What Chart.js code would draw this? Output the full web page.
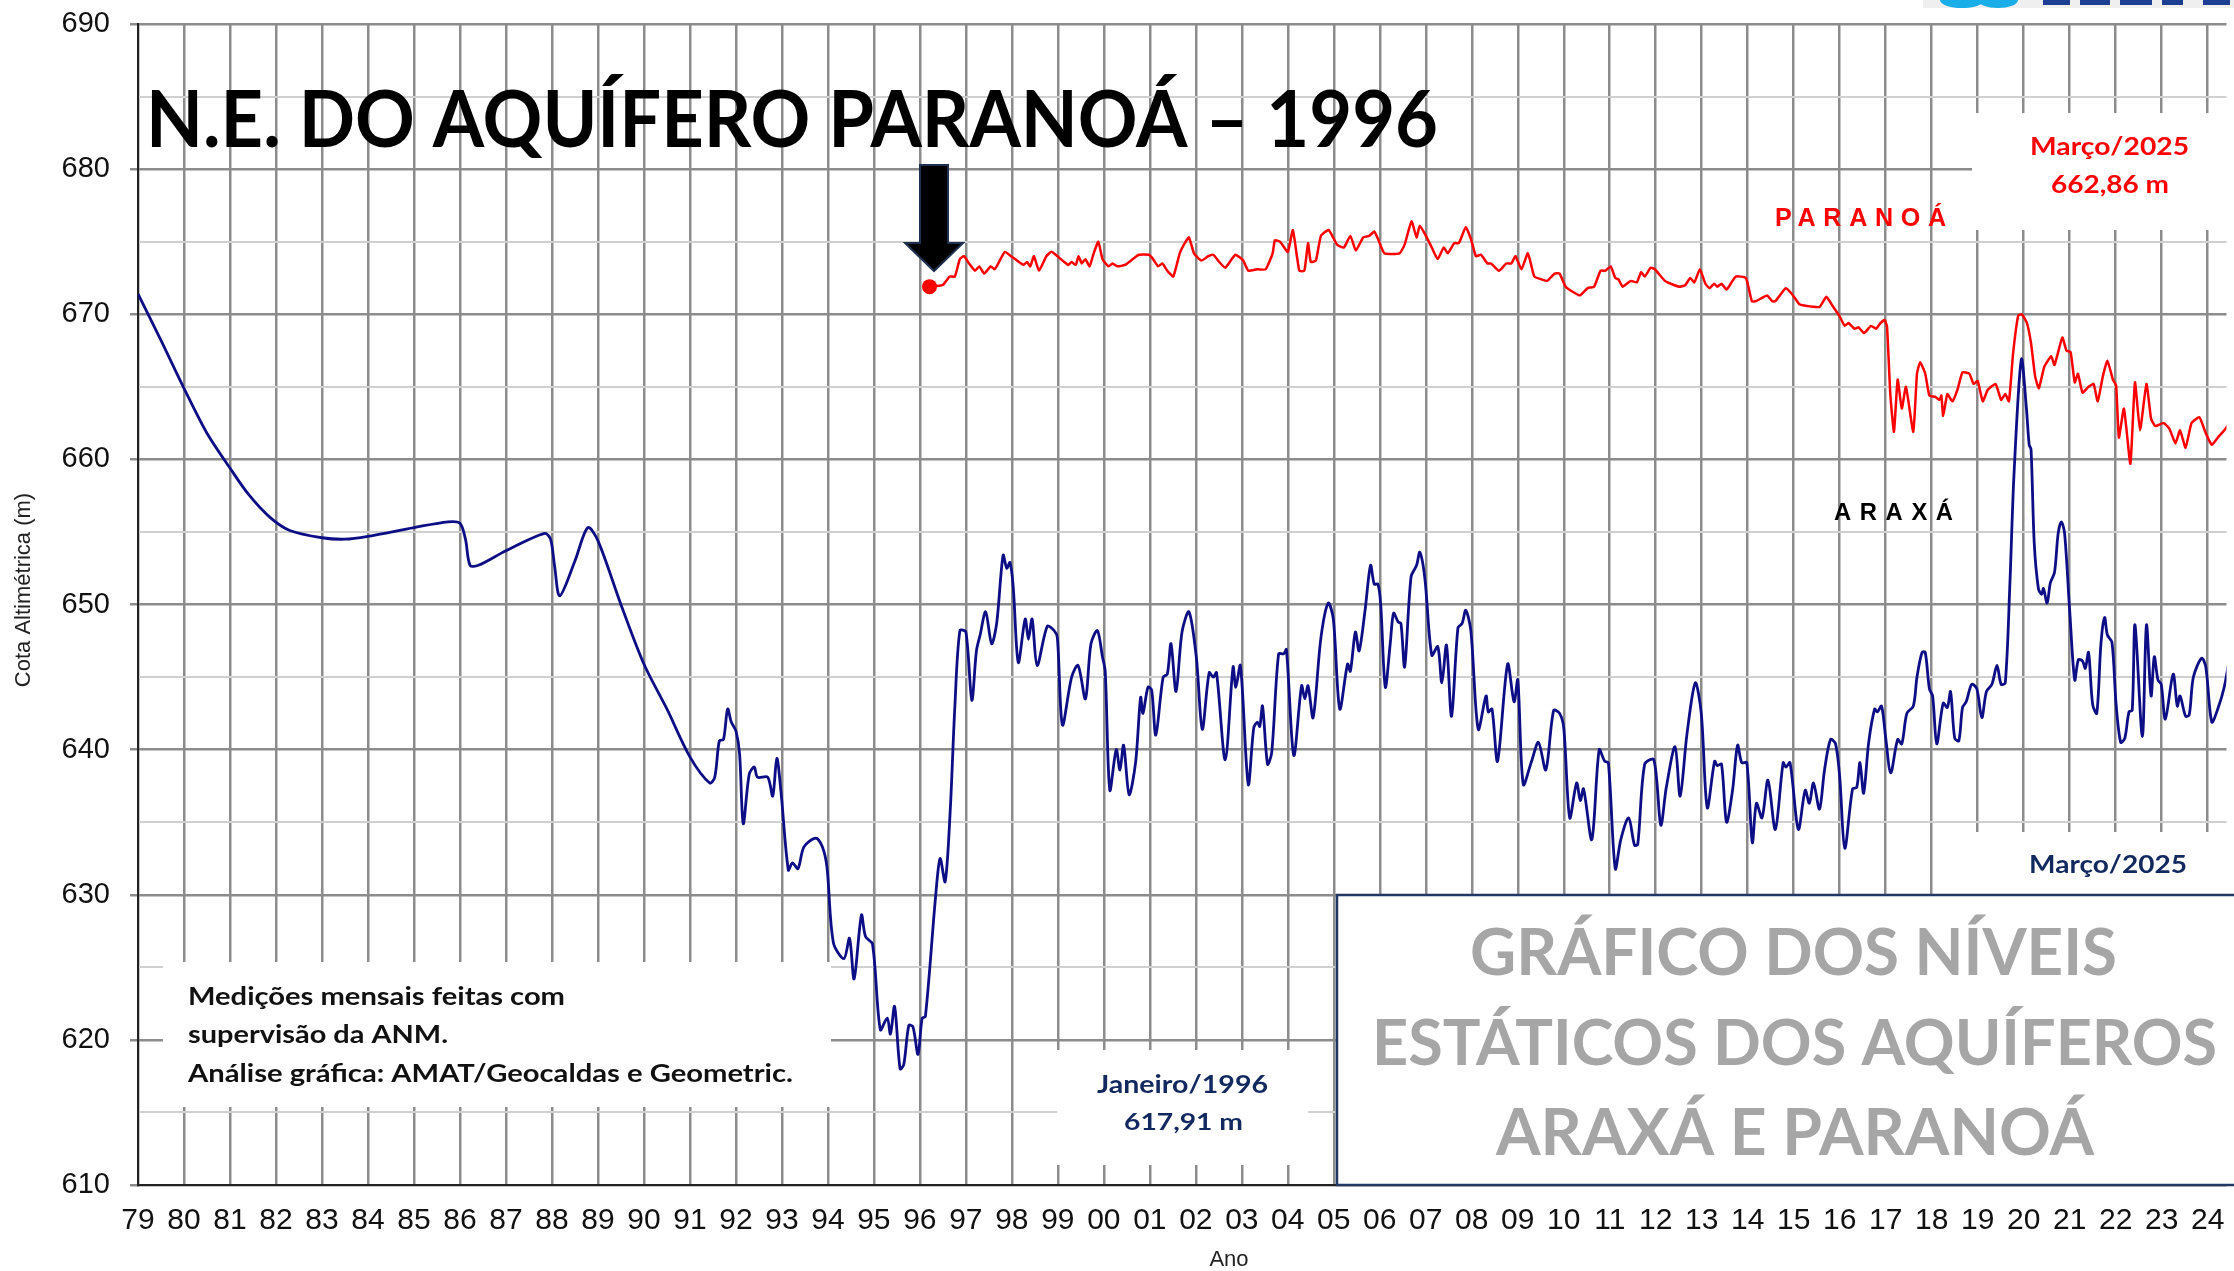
<!DOCTYPE html>
<html>
<head>
<meta charset="utf-8">
<script src="https://cdn.jsdelivr.net/npm/chart.js@4.4.1/dist/chart.umd.min.js"></script>
<style>
html,body{margin:0;padding:0;background:#fff;overflow:hidden}
canvas{display:block}
</style>
</head>
<body>
<canvas id="c" width="2234" height="1271" style="width:2234px;height:1271px"></canvas>
<script>
// ---------- DATA ----------
const yearLabels = ['79','80','81','82','83','84','85','86','87','88','89','90','91','92','93','94','95','96','97','98','99','00','01','02','03','04','05','06','07','08','09','10','11','12','13','14','15','16','17','18','19','20','21','22','23','24'];

const araxaYears = [
1979.00,1979.50,1980.00,1980.50,1981.00,1981.40,1981.87,1982.30,1983.00,1983.50,1984.00,1985.00,1985.74,1986.00,1986.12,1986.22,1986.40,1987.00,1987.84,1987.97,1988.06,1988.17,1988.50,1988.78,1989.00,1989.50,1990.00,1990.50,1991.00,1991.43,1991.54,1991.64,1991.73,1991.82,1991.90,1992.00,1992.08,1992.16,1992.29,1992.40,1992.47,1992.69,1992.80,1992.89,1992.98,1993.14,1993.23,1993.35,1993.48,1993.74,1993.88,1993.98,1994.12,1994.35,1994.47,1994.57,1994.73,1994.82,1994.97,1995.14,1995.29,1995.36,1995.45,1995.57,1995.65,1995.76,1995.85,1995.96,1996.05,1996.12,1996.34,1996.44,1996.55,1996.66,1996.76,1996.87,1997.00,1997.13,1997.23,1997.31,1997.43,1997.56,1997.67,1997.81,1997.89,1997.96,1998.03,1998.14,1998.29,1998.36,1998.44,1998.55,1998.77,1998.92,1998.99,1999.10,1999.30,1999.44,1999.60,1999.72,1999.86,1999.97,2000.03,2000.13,2000.27,2000.35,2000.43,2000.55,2000.69,2000.80,2000.85,2000.96,2001.04,2001.13,2001.29,2001.38,2001.46,2001.57,2001.70,2001.85,2002.01,2002.14,2002.29,2002.38,2002.45,2002.64,2002.81,2002.87,2002.97,2003.14,2003.26,2003.34,2003.39,2003.45,2003.56,2003.65,2003.80,2003.91,2003.97,2004.13,2004.30,2004.37,2004.44,2004.55,2004.72,2004.88,2004.99,2005.13,2005.30,2005.36,2005.47,2005.55,2005.68,2005.80,2005.88,2005.96,2006.02,2006.12,2006.23,2006.30,2006.40,2006.46,2006.54,2006.68,2006.80,2006.87,2006.98,2007.13,2007.26,2007.35,2007.45,2007.56,2007.70,2007.79,2007.87,2007.98,2008.14,2008.31,2008.36,2008.44,2008.56,2008.78,2008.92,2009.00,2009.12,2009.30,2009.45,2009.61,2009.78,2009.91,2010.00,2010.13,2010.28,2010.36,2010.43,2010.61,2010.77,2010.89,2010.97,2011.12,2011.24,2011.41,2011.54,2011.61,2011.76,2011.96,2012.11,2012.23,2012.42,2012.53,2012.68,2012.86,2012.99,2013.12,2013.28,2013.34,2013.43,2013.54,2013.67,2013.78,2013.87,2013.98,2014.10,2014.19,2014.31,2014.44,2014.60,2014.77,2014.83,2014.92,2015.10,2015.25,2015.34,2015.43,2015.56,2015.67,2015.80,2015.91,2016.00,2016.11,2016.28,2016.37,2016.44,2016.52,2016.63,2016.76,2016.82,2016.91,2017.00,2017.11,2017.26,2017.35,2017.46,2017.60,2017.68,2017.79,2017.86,2017.95,2018.02,2018.11,2018.25,2018.34,2018.41,2018.50,2018.59,2018.67,2018.75,2018.87,2018.98,2019.09,2019.19,2019.31,2019.42,2019.51,2019.60,2019.70,2019.79,2019.95,2020.06,2020.12,2020.16,2020.23,2020.32,2020.39,2020.43,2020.51,2020.58,2020.67,2020.75,2020.82,2020.89,2021.00,2021.11,2021.19,2021.28,2021.34,2021.41,2021.50,2021.59,2021.68,2021.76,2021.82,2021.92,2022.01,2022.11,2022.20,2022.29,2022.36,2022.42,2022.58,2022.67,2022.77,2022.84,2022.92,2022.99,2023.08,2023.25,2023.34,2023.40,2023.52,2023.60,2023.69,2023.87,2023.96,2024.09,2024.22,2024.36,2024.50];
const araxaLevels = [
671.4,668.2,664.9,661.8,659.4,657.6,656.0,655.1,654.6,654.5,654.7,655.3,655.7,655.6,654.5,652.7,652.7,653.7,654.9,654.5,652.6,650.6,653.0,655.3,654.4,650.0,645.9,642.8,639.5,637.7,638.1,640.6,640.7,642.8,641.9,641.3,639.7,634.9,638.3,638.8,638.1,638.1,636.8,639.4,637.1,631.7,632.2,631.8,633.3,633.9,633.3,631.9,626.7,625.6,627.0,624.2,628.6,627.1,626.6,620.7,621.5,620.4,622.3,618.0,618.3,621.0,620.9,619.0,621.5,621.6,629.8,632.5,630.9,635.8,642.9,648.2,648.1,643.4,646.8,647.9,649.5,647.3,648.7,653.4,652.5,652.9,651.2,646.0,649.0,647.6,649.0,645.8,648.5,648.2,647.7,641.7,645.0,645.8,643.5,647.3,648.2,646.4,645.4,637.2,640.0,638.6,640.3,636.9,639.1,643.6,642.5,644.3,644.1,641.0,645.0,645.2,647.3,644.0,648.1,649.5,646.4,641.4,645.3,645.0,645.3,639.3,645.7,644.3,645.8,637.6,641.5,641.9,641.6,643.0,639.0,639.8,646.6,646.6,646.9,639.6,644.4,643.5,644.4,642.2,647.7,650.1,649.0,642.8,645.9,645.4,648.1,646.8,649.6,652.7,651.4,651.4,650.0,644.3,647.4,649.4,648.8,648.7,645.7,651.9,652.7,653.6,651.8,646.5,647.1,644.6,647.2,642.3,648.4,648.7,649.6,648.2,641.4,643.7,642.6,642.8,639.2,645.9,643.3,644.8,637.6,639.2,640.5,638.6,642.7,642.5,641.5,635.3,637.7,636.5,637.3,633.8,640.0,639.2,639.1,631.8,633.8,635.3,633.4,633.5,639.0,639.3,634.8,637.4,640.2,636.8,641.1,644.6,642.5,636.0,639.2,638.9,639.0,635.0,637.2,640.3,639.1,639.1,633.6,636.3,635.3,637.9,634.5,639.1,638.8,639.1,634.5,637.2,636.3,637.7,635.9,638.6,640.7,640.4,638.1,633.2,637.3,637.4,639.1,637.0,640.5,642.8,642.6,643.0,640.8,638.4,640.7,640.4,642.5,643.0,645.0,646.7,646.7,644.2,643.7,640.4,643.2,642.9,644.0,640.8,640.6,642.9,643.3,644.5,644.2,642.2,644.0,644.5,645.8,644.5,644.6,651.4,659.0,666.9,663.5,661.0,660.7,654.2,651.1,650.7,651.1,650.1,651.5,652.2,654.9,655.7,654.9,649.6,644.8,646.2,646.1,645.6,646.7,643.1,642.5,647.3,649.1,647.9,647.4,643.1,640.5,640.8,642.6,642.7,648.6,640.9,648.6,643.7,646.4,644.8,644.5,642.1,645.2,643.0,643.7,642.3,642.4,645.0,646.3,645.7,641.9,642.8,644.3,646.8];

const paranoaYears = [
1996.21,1996.49,1996.65,1996.76,1996.87,1996.96,1997.07,1997.20,1997.29,1997.40,1997.54,1997.62,1997.67,1997.85,1997.98,1998.11,1998.25,1998.33,1998.40,1998.48,1998.59,1998.75,1998.86,1998.99,1999.14,1999.23,1999.30,1999.39,1999.45,1999.52,1999.60,1999.69,1999.77,1999.88,1999.97,2000.10,2000.19,2000.30,2000.46,2000.63,2000.76,2000.98,2001.07,2001.18,2001.27,2001.38,2001.51,2001.65,2001.76,2001.85,2001.96,2002.12,2002.27,2002.38,2002.51,2002.64,2002.86,2003.03,2003.14,2003.34,2003.52,2003.67,2003.72,2003.83,2004.00,2004.11,2004.25,2004.36,2004.44,2004.50,2004.61,2004.72,2004.89,2005.07,2005.22,2005.36,2005.48,2005.64,2005.77,2005.88,2005.96,2006.10,2006.43,2006.54,2006.69,2006.80,2006.87,2007.02,2007.13,2007.26,2007.39,2007.48,2007.62,2007.72,2007.87,2007.98,2008.09,2008.20,2008.34,2008.42,2008.59,2008.75,2008.86,2008.95,2009.08,2009.22,2009.36,2009.52,2009.64,2009.80,2009.91,2010.04,2010.22,2010.35,2010.52,2010.66,2010.80,2010.91,2011.02,2011.12,2011.19,2011.28,2011.46,2011.59,2011.68,2011.76,2011.89,2011.98,2012.20,2012.33,2012.51,2012.64,2012.75,2012.84,2012.96,2013.08,2013.17,2013.27,2013.34,2013.43,2013.54,2013.61,2013.74,2013.96,2014.09,2014.18,2014.42,2014.53,2014.60,2014.83,2014.96,2015.12,2015.23,2015.56,2015.71,2015.84,2015.99,2016.11,2016.19,2016.32,2016.41,2016.53,2016.68,2016.79,2016.89,2016.98,2017.03,2017.10,2017.18,2017.26,2017.35,2017.44,2017.60,2017.68,2017.75,2017.86,2017.95,2018.08,2018.17,2018.21,2018.25,2018.34,2018.45,2018.56,2018.67,2018.82,2018.91,2019.00,2019.11,2019.22,2019.39,2019.51,2019.60,2019.68,2019.77,2019.88,2019.96,2020.07,2020.16,2020.25,2020.33,2020.45,2020.60,2020.67,2020.84,2020.93,2021.02,2021.11,2021.18,2021.28,2021.41,2021.52,2021.61,2021.72,2021.82,2021.94,2022.01,2022.07,2022.18,2022.32,2022.42,2022.53,2022.67,2022.77,2022.86,2023.04,2023.17,2023.30,2023.40,2023.52,2023.65,2023.82,2023.96,2024.09,2024.22,2024.36,2024.50];
const paranoaLevels = [
671.9,672.0,672.6,672.6,673.8,674.0,673.5,673.0,673.3,672.8,673.3,673.1,673.3,674.3,674.0,673.7,673.4,673.6,673.3,674.0,673.0,674.0,674.3,674.0,673.6,673.4,673.6,673.4,674.0,673.5,673.8,673.3,674.1,675.0,673.8,673.3,673.5,673.3,673.4,673.8,674.1,674.1,673.8,673.3,673.5,673.0,672.6,674.2,674.9,675.3,674.2,673.7,674.0,674.1,673.6,673.2,674.1,673.7,673.0,673.1,673.1,674.2,675.1,675.0,674.3,675.8,673.0,673.0,674.9,673.6,673.7,675.4,675.8,674.8,674.6,675.4,674.4,675.3,675.4,675.7,675.2,674.2,674.2,674.8,676.4,675.3,676.1,675.3,674.6,673.8,674.6,674.2,674.9,674.9,676.0,675.2,674.0,674.1,673.5,673.5,673.0,673.5,673.5,674.0,673.1,674.2,672.6,672.4,672.3,672.8,672.8,671.9,671.5,671.3,671.8,671.9,673.0,673.0,673.3,672.5,672.4,671.9,672.3,672.2,672.9,672.6,673.2,673.1,672.3,672.1,671.9,672.0,672.5,672.2,673.1,672.1,671.8,672.1,671.9,672.1,671.7,672.0,672.6,672.5,670.9,670.9,671.3,670.9,670.9,671.8,671.4,670.7,670.6,670.5,671.2,670.6,669.9,669.2,669.4,669.0,669.1,668.7,669.2,669.0,669.4,669.6,669.1,664.5,661.9,665.5,663.5,665.0,661.9,665.9,666.7,665.9,664.4,664.3,664.1,664.4,663.0,664.5,664.0,664.8,666.0,665.9,665.2,665.4,664.0,664.8,665.2,664.1,664.5,664.0,667.3,669.9,670.0,669.4,668.0,665.7,664.9,666.4,667.1,666.5,668.4,667.5,667.4,665.3,665.9,664.6,665.0,665.2,664.0,665.7,666.8,665.5,665.1,661.5,663.5,659.7,665.3,662.0,665.2,662.8,662.3,662.5,662.1,661.1,662.0,660.8,662.5,662.9,661.8,661.0,661.5,662.0,662.6];

// ---------- TEXTS ----------
const titleText = 'N.E. DO AQUÍFERO PARANOÁ – 1996';
const noteLines = ['Medições mensais feitas com', 'supervisão da ANM.', 'Análise gráfica: AMAT/Geocaldas e Geometric.'];
const bigLines = ['GRÁFICO DOS NÍVEIS', 'ESTÁTICOS DOS AQUÍFEROS', 'ARAXÁ E PARANOÁ'];

// ---------- helpers ----------
function fitText(ctx, txt, left, right, baseline, cap, color, family, weight, ratio) {
  const size = cap / (ratio || 0.72);
  ctx.font = (weight || 'bold') + ' ' + size + 'px ' + (family || 'Lato, "Open Sans", sans-serif');
  ctx.textAlign = 'left';
  ctx.textBaseline = 'alphabetic';
  const w = ctx.measureText(txt).width;
  const sx = (right - left) / w;
  ctx.save();
  ctx.translate(left, baseline);
  ctx.scale(sx, 1);
  ctx.fillStyle = color;
  ctx.fillText(txt, 0, 0);
  ctx.restore();
}
function spacedText(ctx, txt, left, right, baseline, cap, color) {
  const size = cap / 0.716;
  ctx.save();
  ctx.font = 'bold ' + size + 'px "Liberation Sans", Arial, sans-serif';
  ctx.textAlign = 'left';
  ctx.textBaseline = 'alphabetic';
  ctx.fillStyle = color;
  const chars = Array.from(txt);
  const widths = chars.map(c => ctx.measureText(c).width);
  const total = widths.reduce((a, b) => a + b, 0);
  const gap = (right - left - total) / (chars.length - 1);
  if ('letterSpacing' in ctx) {
    ctx.letterSpacing = gap + 'px';
    ctx.fillText(txt, left, baseline);
  } else {
    let x = left;
    chars.forEach((c, i) => { ctx.fillText(c, x, baseline); x += widths[i] + gap; });
  }
  ctx.restore();
}

const overlay = {
  id: 'overlay',
  beforeDatasetsDraw(chart) {
    const ctx = chart.ctx;
    ctx.save();
    ctx.fillStyle = '#ffffff';
    ctx.fillRect(163, 962, 831 - 163, 1107 - 962);      // note box
    ctx.fillRect(1057, 1050, 1308 - 1057, 1165 - 1050); // Janeiro/1996 box
    ctx.fillRect(1972, 113, 2234 - 1972, 230 - 113);    // red label box
    ctx.fillRect(1972, 832, 2234 - 1972, 895 - 832);    // navy label box
    ctx.restore();
  },
  afterDatasetsDraw(chart) {
    const ctx = chart.ctx;
    ctx.save();
    // title
    fitText(ctx, titleText, 146, 1438, 147, 56, '#000000');
    // arrow
    ctx.beginPath();
    ctx.moveTo(920, 165); ctx.lineTo(948, 165); ctx.lineTo(948, 243); ctx.lineTo(963, 243);
    ctx.lineTo(934, 271); ctx.lineTo(905, 243); ctx.lineTo(920, 243); ctx.closePath();
    ctx.fillStyle = '#000000'; ctx.fill();
    ctx.strokeStyle = '#1f3050'; ctx.lineWidth = 2; ctx.stroke();
    // series labels
    spacedText(ctx, 'PARANOÁ', 1775, 1948, 226, 18, '#ff0000');
    spacedText(ctx, 'ARAXÁ', 1834, 1953, 520, 17, '#000000');
    // red label
    fitText(ctx, 'Março/2025', 2030, 2189, 155, 18, '#ff0000');
    fitText(ctx, '662,86 m', 2051, 2169, 193, 18, '#ff0000');
    // navy labels
    fitText(ctx, 'Março/2025', 2029, 2187, 873, 18, '#12295f');
    fitText(ctx, '645,57 m', 2051, 2169, 912, 18, '#12295f');
    fitText(ctx, 'Janeiro/1996', 1097, 1268, 1093, 18, '#12295f');
    fitText(ctx, '617,91 m', 1124, 1243, 1130, 17, '#12295f');
    // note
    fitText(ctx, noteLines[0], 188, 565, 1005, 18, '#111111');
    fitText(ctx, noteLines[1], 188, 448, 1043, 18, '#111111');
    fitText(ctx, noteLines[2], 188, 793, 1082, 18, '#111111');
    // big box
    ctx.fillStyle = '#ffffff';
    ctx.fillRect(1337, 895, 2234 - 1337, 1185 - 895);
    ctx.strokeStyle = '#1f3864'; ctx.lineWidth = 2.5;
    ctx.strokeRect(1337, 895, 2240 - 1337, 1185 - 895);
    fitText(ctx, bigLines[0], 1470, 2117, 975, 47, '#a6a6a6');
    fitText(ctx, bigLines[1], 1372, 2217, 1065, 46, '#a6a6a6');
    fitText(ctx, bigLines[2], 1496, 2094, 1155, 47, '#a6a6a6');
    // axis titles
    ctx.fillStyle = '#222222';
    ctx.font = '22px "Liberation Sans", Arial, sans-serif';
    ctx.textAlign = 'center'; ctx.textBaseline = 'middle';
    ctx.fillText('Ano', 1229, 1260);
    ctx.save();
    ctx.translate(24, 590); ctx.rotate(-Math.PI / 2);
    ctx.fillText('Cota Altimétrica (m)', 0, 0);
    ctx.restore();
    // logo fragment at top right
    ctx.fillStyle = '#efefef'; ctx.fillRect(1923, 0, 311, 8);
    ctx.fillStyle = '#19aee8';
    ctx.beginPath(); ctx.ellipse(1962, 0, 22, 8, 0, 0, Math.PI); ctx.fill();
    ctx.beginPath(); ctx.ellipse(1998, 0, 20, 8, 0, 0, Math.PI); ctx.fill();
    ctx.fillStyle = '#1c3f94';
    [[2043, 27], [2080, 30], [2120, 32], [2162, 21], [2203, 27]].forEach(b => ctx.fillRect(b[0], 0, b[1], 5));
    ctx.restore();
  }
};

new Chart(document.getElementById('c'), {
  type: 'line',
  data: {
    datasets: [
      {
        label: 'Araxá',
        data: araxaYears.map((x, i) => ({ x: x, y: araxaLevels[i] })),
        borderColor: '#0d0d86',
        borderWidth: 2.8,
        pointRadius: 0,
        tension: 0.3,
        fill: false
      },
      {
        label: 'Paranoá',
        data: paranoaYears.map((x, i) => ({ x: x, y: paranoaLevels[i] })),
        borderColor: '#ff0000',
        borderWidth: 2.5,
        pointRadius: c => (c.dataIndex === 0 ? 7.5 : 0),
        pointBackgroundColor: '#ff0000',
        pointBorderWidth: 0,
        tension: 0.15,
        fill: false
      }
    ]
  },
  options: {
    responsive: false,
    animation: false,
    devicePixelRatio: 1,
    layout: { padding: { top: 24, right: 0, bottom: 0, left: 0 } },
    plugins: { legend: { display: false }, tooltip: { enabled: false }, title: { display: false } },
    scales: {
      x: {
        type: 'linear',
        min: 1979,
        max: 2024.41,
        ticks: {
          stepSize: 1, autoSkip: false, includeBounds: false, maxRotation: 0, minRotation: 0,
          padding: 18,
          font: { family: '"Liberation Sans", Arial, sans-serif', size: 30 },
          color: '#111111',
          callback: v => yearLabels[Math.round(v) - 1979]
        },
        grid: { color: '#8c8c8c', lineWidth: 2.5, drawTicks: false },
        border: { color: '#222222', width: 2 },
        afterFit: s => { s.height = 86; s.paddingLeft = 0; s.paddingRight = 0; }
      },
      y: {
        min: 610,
        max: 690,
        ticks: {
          stepSize: 5, autoSkip: false, padding: 20,
          font: { family: '"Liberation Sans", Arial, sans-serif', size: 29 },
          color: '#111111',
          callback: v => (Math.round(v) % 10 === 0 ? String(Math.round(v)) : '')
        },
        grid: {
          color: c => (c.tick && Math.round(c.tick.value) % 10 === 0 ? '#8c8c8c' : '#d0d0d0'),
          lineWidth: c => (c.tick && Math.round(c.tick.value) % 10 === 0 ? 2.5 : 2),
          tickColor: c => (c.tick && Math.round(c.tick.value) % 10 === 0 ? '#8c8c8c' : 'rgba(0,0,0,0)'),
          tickLength: 8,
          drawTicks: true
        },
        border: { color: '#222222', width: 2 },
        afterFit: s => { s.width = 138; s.paddingTop = 0; s.paddingBottom = 0; }
      }
    }
  },
  plugins: [overlay]
});
</script>
</body>
</html>
